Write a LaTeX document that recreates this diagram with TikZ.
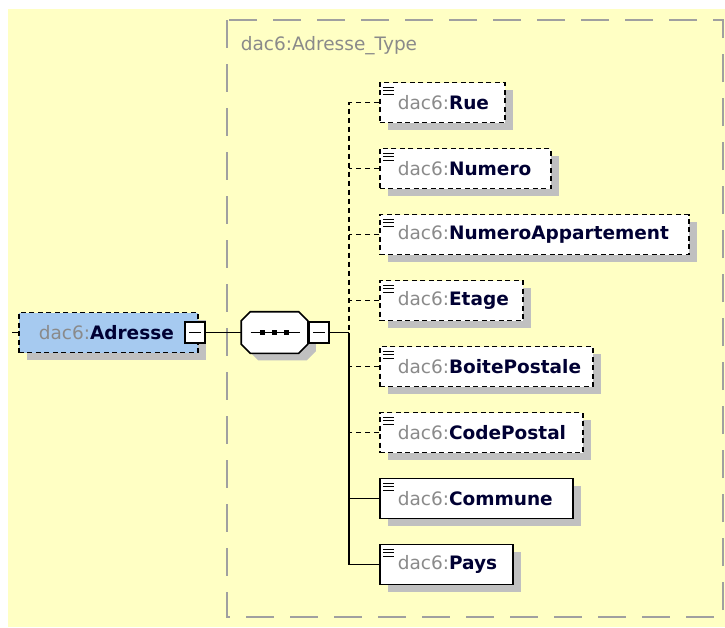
\documentclass[tikz,border=0pt]{standalone}
\usepackage{fontspec}
\setmainfont{DejaVu Sans}
\usetikzlibrary{shadows}
\definecolor{bgyellow}{HTML}{FFFFC4}
\definecolor{elblue}{HTML}{A6CAF0}
\definecolor{shade}{HTML}{C0C0C0}
\definecolor{pfxgray}{HTML}{8A8A8A}
\definecolor{typegray}{HTML}{A0A0A0}
\definecolor{namecol}{HTML}{000033}
\newcommand{\el}[1]{\mbox{\textcolor{pfxgray}{dac6:}\textcolor{namecol}{\textbf{#1}}}}
\tikzset{
  every node/.style={font=\fontsize{18.5}{22}\selectfont},
  shade/.style={drop shadow={shadow xshift=8pt,shadow yshift=-7pt,fill=shade,opacity=1}},
  elem/.style={draw,fill=white,shade,anchor=west,minimum height=40pt,inner xsep=18pt,inner ysep=0pt,
    align=left,text width=#1,line width=1.6pt,dash pattern=on 5pt off 3.5pt,
    path picture={\foreach \d in {4.5,8,11.5}
      \draw[solid,line width=1pt] ([xshift=3pt,yshift=-\d pt]path picture bounding box.north west) -- ++(11pt,0);}},
  mand/.style={solid},
  optline/.style={dash pattern=on 5pt off 4pt},
  minus/.style={draw,fill=white,line width=1.6pt,minimum width=20pt,minimum height=21pt,inner sep=0pt,
    path picture={\draw[line width=1.4pt] ([xshift=-6pt]path picture bounding box.center) -- ++(12pt,0);}}
}
\begin{document}
\begin{tikzpicture}[x=1pt,y=-1pt,line width=1.6pt]
\useasboundingbox (0,0) rectangle (725,627);
\fill[bgyellow] (8,9) rectangle (725,627);
% complex type frame
\draw[typegray,line width=2pt,dash pattern=on 28pt off 16pt] (227,20) rectangle (723,617);
\node[anchor=west,inner sep=0pt,text=pfxgray] (typ) at (240,46) {dac6:Adresse\_Type};
% element Adresse
\node[draw,fill=elblue,shade,anchor=west,minimum width=179pt,minimum height=40pt,inner xsep=20pt,
  dash pattern=on 5pt off 3.5pt,align=left,text width=139pt] (adr) at (18,332.5) {\el{Adresse}};
\node[minus] (adrm) at (195,332.5) {};
\coordinate (lt) at (12,332.5);
\draw (lt) -- (adr.west);
% sequence
\node[minimum width=65pt,minimum height=40pt,inner sep=0pt] (seq) at (274.5,332.5) {};
\draw[fill=white,shade] ([xshift=9pt]seq.north west) -- ([xshift=-9pt]seq.north east)
  -- ([yshift=-9pt]seq.north east) -- ([yshift=9pt]seq.south east) -- ([xshift=-9pt]seq.south east)
  -- ([xshift=9pt]seq.south west) -- ([yshift=9pt]seq.south west) -- ([yshift=-9pt]seq.north west) -- cycle;
\draw ([xshift=-24pt]seq.center) -- ([xshift=25pt]seq.center);
\foreach \d in {-12,0,12}
  \fill ([xshift=\d pt]seq.center) +(-2.5,-2.5) rectangle +(2.5,2.5);
\node[minus] (seqm) at (319,332.5) {};
\draw (adrm.east) -- (seq.west);
\coordinate (trunk) at (349,332.5);
\draw (seqm.east) -- (trunk);
% children
\node[elem=89pt] (rue) at (379,102.5) {\el{Rue}};
\node[elem=135pt] (num) at (379,168.5) {\el{Numero}};
\node[elem=273pt] (numapp) at (379,234.5) {\el{NumeroAppartement}};
\node[elem=107pt] (etage) at (379,300.5) {\el{Etage}};
\node[elem=177pt] (bp) at (379,366.5) {\el{BoitePostale}};
\node[elem=167pt] (cp) at (379,432.5) {\el{CodePostal}};
\node[elem=157pt,mand] (com) at (379,498.5) {\el{Commune}};
\node[elem=97pt,mand] (pays) at (379,564.5) {\el{Pays}};
% connectors
\draw[optline] (rue.west) -| (trunk);
\draw[optline] (num.west) -- (num.west -| trunk);
\draw[optline] (numapp.west) -- (numapp.west -| trunk);
\draw[optline] (etage.west) -- (etage.west -| trunk);
\draw[optline] (bp.west) -- (bp.west -| trunk);
\draw[optline] (cp.west) -- (cp.west -| trunk);
\draw (trunk) |- (pays.west);
\draw (com.west) -- (com.west -| trunk);
\end{tikzpicture}
\end{document}
